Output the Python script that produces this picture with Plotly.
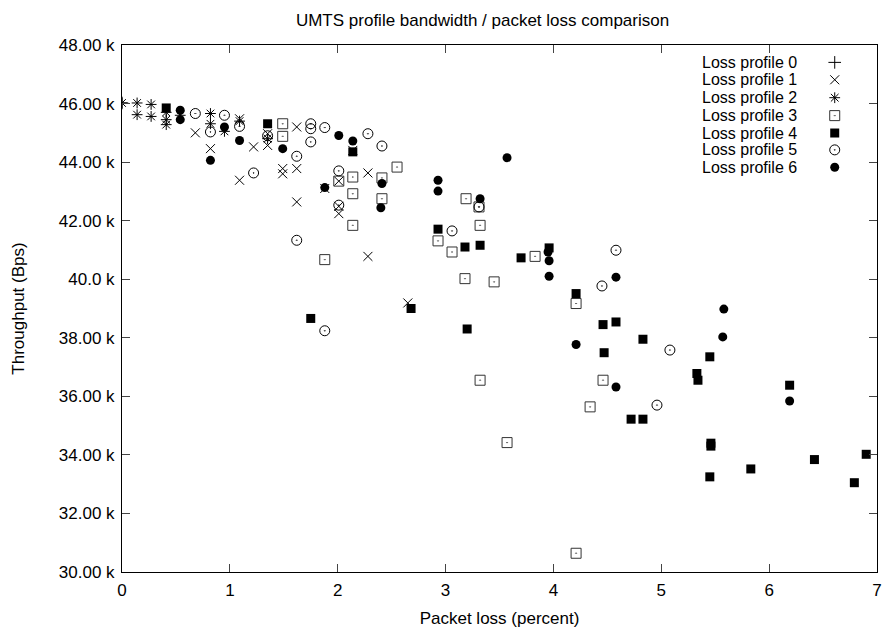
import plotly.graph_objects as go

# ---------------- data (packet loss %, throughput Bps) ----------------
p0_x = [0.0]
p0_y = [46020]

p1_x = [0.68, 0.82, 1.09, 1.09, 1.22, 1.35, 1.35, 1.49, 1.49, 1.62, 1.62, 1.62, 1.88, 2.01, 2.01, 2.01, 2.28, 2.28, 2.65, 2.14]
p1_y = [45000, 44460, 43380, 45480, 44520, 44970, 44570, 43780, 43600, 45200, 43780, 42640, 43100, 43350, 42490, 42240, 43630, 40780, 39190, 44400]

p2_x = [0.0, 0.14, 0.14, 0.27, 0.27, 0.41, 0.41, 0.41, 0.54, 0.82, 0.82, 0.95, 1.09, 1.35]
p2_y = [46020, 46020, 45620, 45970, 45560, 45700, 45450, 45280, 45600, 45660, 45310, 45050, 45400, 44800]

p3_x = [1.49, 1.49, 2.01, 2.14, 2.14, 2.14, 1.88, 2.41, 2.41, 2.55, 3.19, 3.31, 3.32, 2.93, 3.06, 3.18, 3.45, 3.83, 4.21, 3.32, 4.46, 4.34, 3.57, 4.21]
p3_y = [45310, 44880, 43350, 43490, 42920, 41840, 40670, 43460, 42750, 43830, 42750, 42470, 41840, 41310, 40930, 40020, 39910, 40780, 39170, 36550, 36550, 35640, 34420, 30640]

p4_x = [0.41, 1.35, 2.14, 1.75, 2.68, 2.93, 3.18, 3.32, 3.20, 3.70, 3.96, 4.21, 4.46, 4.58, 4.47, 4.83, 5.33, 5.34, 5.45, 4.72, 4.83, 5.46, 5.46, 5.45, 5.83, 6.19, 6.42, 6.79, 6.90]
p4_y = [45850, 45310, 44350, 38660, 39000, 41710, 41100, 41160, 38300, 40730, 41070, 39510, 38450, 38540, 37490, 37950, 36780, 36550, 37350, 35220, 35220, 34400, 34300, 33250, 33520, 36380, 33840, 33050, 34020]

p5_x = [0.68, 0.82, 0.95, 1.09, 1.22, 1.35, 1.62, 1.62, 1.75, 1.75, 1.75, 1.88, 1.88, 2.01, 2.01, 2.28, 2.41, 3.06, 3.31, 4.45, 4.58, 4.96, 5.08]
p5_y = [45660, 45030, 45600, 45220, 43630, 44900, 44200, 41330, 45310, 45140, 44690, 45180, 38240, 43700, 42530, 44970, 44550, 41650, 42470, 39770, 40990, 35700, 37580]

p6_x = [0.54, 0.54, 0.82, 0.95, 1.09, 1.49, 1.88, 2.01, 2.14, 2.41, 2.40, 2.93, 2.93, 3.32, 3.57, 3.95, 3.96, 3.96, 4.21, 4.58, 4.58, 5.58, 5.57, 6.19]
p6_y = [45770, 45450, 44060, 45200, 44740, 44460, 43130, 44910, 44720, 43270, 42440, 43380, 43010, 42750, 44150, 40930, 40630, 40100, 37770, 40070, 36320, 38980, 38030, 35840]

names = ["Loss profile 0", "Loss profile 1", "Loss profile 2", "Loss profile 3",
         "Loss profile 4", "Loss profile 5", "Loss profile 6"]

y_tickvals = [30000, 32000, 34000, 36000, 38000, 40000, 42000, 44000, 46000, 48000]
y_ticktext = ["30.00 k", "32.00 k", "34.00 k", "36.00 k", "38.00 k", "40.0 k",
              "42.00 k", "44.00 k", "46.00 k", "48.00 k"]
x_tickvals = [0, 1, 2, 3, 4, 5, 6, 7]

# ---------------- styles ----------------
styles = [
    dict(symbol="cross-thin-open", size=9, line=dict(width=1, color="black"), color="black"),
    dict(symbol="x-thin-open", size=9, line=dict(width=1, color="black"), color="black"),
    dict(symbol="asterisk-open", size=9, line=dict(width=1, color="black"), color="black"),
    dict(symbol="square-open-dot", size=10, line=dict(width=1, color="#333333"), color="#333333"),
    dict(symbol="square", size=9, line=dict(width=0), color="black"),
    dict(symbol="circle-open-dot", size=10, line=dict(width=1, color="black"), color="black"),
    dict(symbol="circle", size=9, line=dict(width=0), color="black"),
]

series = [(p0_x, p0_y), (p1_x, p1_y), (p2_x, p2_y), (p3_x, p3_y),
          (p4_x, p4_y), (p5_x, p5_y), (p6_x, p6_y)]

FONT = "Liberation Sans, Arial, sans-serif"
FS = 17

fig = go.Figure()
for (xs, ys), st, nm in zip(series, styles, names):
    fig.add_trace(go.Scatter(x=xs, y=ys, mode="markers", name=nm,
                             marker=st, showlegend=False, hoverinfo="x+y+name"))

# gnuplot-style key: text right-aligned, symbol to its right
key_sym_x = 0.944
key_text_x = 0.896
key_rows = [0.967, 0.934, 0.900, 0.866, 0.833, 0.801, 0.768]
for nm, st, ky in zip(names, styles, key_rows):
    fig.add_trace(go.Scatter(x=[key_sym_x], y=[ky], mode="markers", marker=st,
                             xaxis="x2", yaxis="y2", showlegend=False, hoverinfo="skip"))
    fig.add_annotation(x=key_text_x, y=ky, xref="paper", yref="paper", text=nm,
                       showarrow=False, xanchor="right", yanchor="middle",
                       borderpad=0, font=dict(family=FONT, size=16, color="black"))

fig.update_layout(
    width=882, height=629,
    margin=dict(l=122, r=5, t=45, b=57),
    paper_bgcolor="white", plot_bgcolor="white",
    font=dict(family=FONT, size=FS, color="black"),
    title=dict(text="UMTS profile bandwidth / packet loss comparison",
               x=0.5471, xanchor="center", y=0.968, yanchor="middle",
               font=dict(family=FONT, size=FS, color="black")),
    xaxis=dict(range=[0, 7], tickvals=x_tickvals, ticks="inside", ticklen=8,
               showline=True, linecolor="black", linewidth=1, mirror="ticks",
               showgrid=False, zeroline=False, tickfont=dict(size=FS),
               ticklabelstandoff=3, automargin=False,
               title=dict(text="Packet loss (percent)", font=dict(size=FS), standoff=12)),
    yaxis=dict(range=[30000, 48000], tickvals=y_tickvals, ticktext=y_ticktext,
               ticks="inside", ticklen=8,
               showline=True, linecolor="black", linewidth=1, mirror="ticks",
               showgrid=False, zeroline=False, tickfont=dict(size=FS),
               ticklabelstandoff=3, automargin=False,
               title=dict(text="Throughput (Bps)", font=dict(size=FS), standoff=29)),
    xaxis2=dict(range=[0, 1], overlaying="x", visible=False, fixedrange=True),
    yaxis2=dict(range=[0, 1], overlaying="y", visible=False, fixedrange=True),
)

fig.write_html("out.html")
